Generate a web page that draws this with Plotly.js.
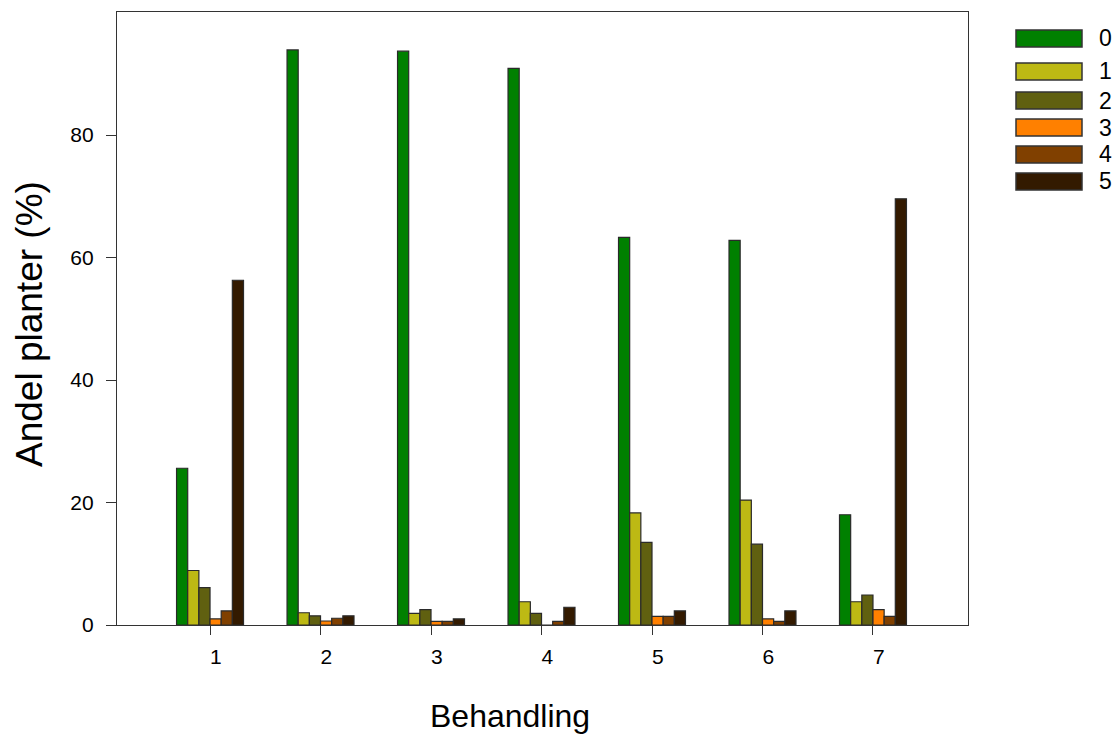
<!DOCTYPE html>
<html>
<head>
<meta charset="utf-8">
<script src="https://cdn.plot.ly/plotly-3.0.1.min.js"></script>
<style>html,body{margin:0;padding:0;background:#fff;}#chart{width:1117px;height:734px;}</style>
</head>
<body>
<div id="chart"></div>
<script>
var categories = [1, 2, 3, 4, 5, 6, 7];
var seriesNames = ["0", "1", "2", "3", "4", "5"];
var s0 = [25.6, 93.9, 93.7, 90.9, 63.3, 62.8, 18.0];
var s1 = [8.9, 2.0, 1.9, 3.8, 18.3, 20.4, 3.8];
var s2 = [6.1, 1.5, 2.5, 1.9, 13.5, 13.2, 4.9];
var s3 = [1.0, 0.65, 0.6, 0.0, 1.4, 1.0, 2.5];
var s4 = [2.3, 1.1, 0.6, 0.6, 1.4, 0.6, 1.4];
var s5 = [56.3, 1.5, 1.0, 2.9, 2.3, 2.3, 69.6];
var yTicks = [0, 20, 40, 60, 80];
var colors = ["#008000", "#bdb914", "#606010", "#ff8000", "#804000", "#331a00"];

var allSeries = [s0, s1, s2, s3, s4, s5];
var traces = allSeries.map(function (vals, i) {
  return {
    type: "bar",
    name: seriesNames[i],
    x: categories,
    y: vals,
    marker: { color: colors[i], line: { color: "#2a2a2a", width: 1.2 } },
    showlegend: false,
    hoverinfo: "x+y+name"
  };
});

var font = "Arial, 'Liberation Sans', sans-serif";
var shapes = [];
var annotations = [];
var legTop = [30, 63, 92, 119, 146, 173];
var H = 734, W = 1117;
legTop.forEach(function (t, i) {
  shapes.push({
    type: "rect", xref: "paper", yref: "paper",
    x0: (1016 - 117) / 851, x1: (1082 - 117) / 851,
    y0: (625 - (t + 17)) / 613, y1: (625 - t) / 613,
    fillcolor: colors[i], line: { color: "#333", width: 1.5 }
  });
  annotations.push({
    xref: "paper", yref: "paper",
    x: (1097 - 117) / 851, y: (625 - (t + 8.5)) / 613,
    xanchor: "left", yanchor: "middle", showarrow: false,
    text: seriesNames[i], font: { family: font, size: 23, color: "#000" }
  });
});
annotations.push({
  xref: "paper", yref: "paper", x: (510 - 117) / 851, y: (625 - 716) / 613,
  xanchor: "center", yanchor: "middle", showarrow: false,
  text: "Behandling", font: { family: font, size: 32, color: "#000" }
});
annotations.push({
  xref: "paper", yref: "paper", x: (29 - 117) / 851, y: (625 - 324) / 613,
  xanchor: "center", yanchor: "middle", showarrow: false, textangle: -90,
  text: "Andel planter (%)", font: { family: font, size: 37, color: "#000" }
});

var layout = {
  width: W, height: H,
  margin: { l: 117, r: 149, t: 12, b: 109, pad: 0 },
  paper_bgcolor: "#fff", plot_bgcolor: "#fff",
  barmode: "group", bargap: 0.394, bargroupgap: 0,
  showlegend: false,
  font: { family: font, color: "#000" },
  xaxis: {
    range: [0.158, 7.86], tickvals: categories,
    ticktext: categories.map(function (c) { return "\u00a0\u00a0" + c; }),
    ticks: "outside", ticklen: 9, tickwidth: 1.3, tickcolor: "#333",
    showline: true, linecolor: "#333", linewidth: 1.3, mirror: true,
    showgrid: false, zeroline: false,
    tickfont: { family: font, size: 21, color: "#000" }, ticklabelstandoff: 4
  },
  yaxis: {
    range: [0, 100.1], tickvals: yTicks, ticktext: yTicks.map(String),
    ticks: "outside", ticklen: 10, tickwidth: 1.3, tickcolor: "#333",
    showline: true, linecolor: "#333", linewidth: 1.3, mirror: true,
    showgrid: false, zeroline: false,
    tickfont: { family: font, size: 21, color: "#000" }, ticklabelstandoff: 8
  },
  shapes: shapes,
  annotations: annotations
};

Plotly.newPlot("chart", traces, layout, { displayModeBar: false, responsive: false });
</script>
</body>
</html>
